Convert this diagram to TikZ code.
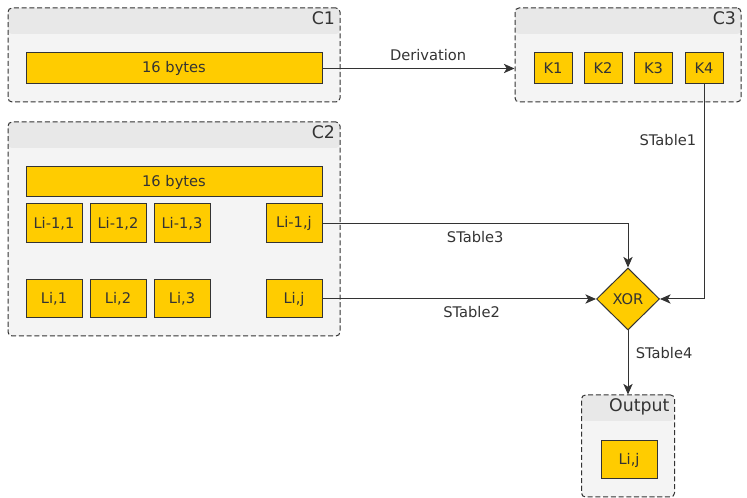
\documentclass[tikz,border=0pt]{standalone}
\usepackage{fontspec}
\setmainfont{DejaVu Sans}
\usepackage{tikz}
\usetikzlibrary{arrows.meta,shapes.geometric}
\definecolor{gold}{HTML}{FFCC00}
\definecolor{ink}{HTML}{333333}
\definecolor{panel}{HTML}{F4F4F4}
\definecolor{band}{HTML}{E8E8E8}

\begin{document}
\begin{tikzpicture}[x=0.75pt, y=-0.75pt, font=\fontsize{11}{13}\selectfont, text=ink,
  box/.style={draw=ink, fill=gold, line width=0.75pt, inner sep=0pt},
  group/.style={draw=ink, fill=panel, dash pattern=on 3.8pt off 2pt, line width=0.75pt, rounded corners=3pt,
    path picture={\fill[band] (path picture bounding box.north west) rectangle ([yshift=-19.5pt]path picture bounding box.north east);}},
  title/.style={anchor=north east, inner sep=0pt, xshift=-4pt, yshift=-3pt, font=\fontsize{13}{15}\selectfont},
  gate/.style={diamond, draw=ink, fill=gold, line width=0.75pt, inner sep=0pt, minimum width=47.25pt, minimum height=46.5pt},
  arr/.style={draw=ink, line width=0.75pt, -{Stealth[length=8pt, width=7pt, inset=2.2pt]}},
  lbl/.style={inner sep=5.5pt}]
\useasboundingbox (0,0) rectangle (747,498);

% containers
\node[group, minimum width=249pt, minimum height=70.5pt] (c1) at (174,55) {};
\node[title] at (c1.north east) {C1};
\node[group, minimum width=169.5pt, minimum height=70.5pt] (c3) at (628,55) {};
\node[title] at (c3.north east) {C3};
\node[group, minimum width=249pt, minimum height=160.5pt] (c2) at (174,229) {};
\node[title] at (c2.north east) {C2};
\node[group, minimum width=69.75pt, minimum height=76.5pt] (out) at (628,446) {};
\node[title] at (out.north east) {Output};

% C1
\node[box, minimum width=222pt, minimum height=23.25pt] (key) at (174,68.5) {16 bytes};

% C3
\node[box, minimum width=28.5pt, minimum height=23.25pt] (k1) at (553,68.5) {K1};
\node[box, minimum width=28.5pt, minimum height=23.25pt] (k2) at (603,68.5) {K2};
\node[box, minimum width=28.5pt, minimum height=23.25pt] (k3) at (653.5,68.5) {K3};
\node[box, minimum width=28.5pt, minimum height=23.25pt] (k4) at (704,68.5) {K4};

% C2
\node[box, minimum width=222pt, minimum height=22.5pt] (blk) at (174,182) {16 bytes};
\node[box, minimum width=42pt, minimum height=29.25pt] (p1) at (54,223.5) {Li-1,1};
\node[box, minimum width=42pt, minimum height=29.25pt] (p2) at (118,223.5) {Li-1,2};
\node[box, minimum width=42pt, minimum height=29.25pt] (p3) at (182,223.5) {Li-1,3};
\node[box, minimum width=42pt, minimum height=29.25pt] (pj) at (294,223.5) {Li-1,j};
\node[box, minimum width=42pt, minimum height=28.5pt] (l1) at (54,299) {Li,1};
\node[box, minimum width=42pt, minimum height=28.5pt] (l2) at (118,299) {Li,2};
\node[box, minimum width=42pt, minimum height=28.5pt] (l3) at (182,299) {Li,3};
\node[box, minimum width=42pt, minimum height=28.5pt] (lj) at (294,299) {Li,j};

% xor and result
\node[gate] (xor) at (628,299) {XOR};
\node[box, minimum width=42pt, minimum height=28.5pt] (res) at (629,460) {Li,j};

\draw[arr] (key) -- node[lbl, above, pos=0.55] {Derivation} (key -| c3.west);
\draw[arr] (k4) |- node[lbl, left, pos=0.13] {STable1} (xor);
\draw[arr] (pj) -| node[lbl, below, pos=0.25] {STable3} (xor);
\draw[arr] (lj) -- node[lbl, below, pos=0.545] {STable2} (xor);
\draw[arr] (xor) -- node[lbl, right, pos=0.35] {STable4} (xor |- out.north);
\end{tikzpicture}
\end{document}
